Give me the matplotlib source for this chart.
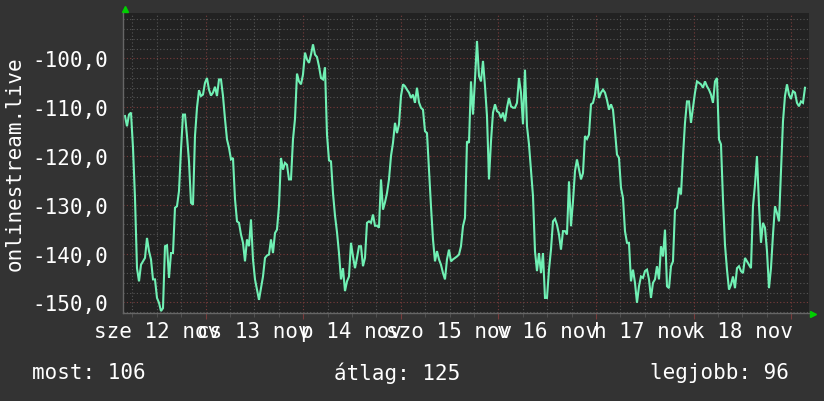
import numpy as np
import matplotlib
matplotlib.use("Agg")
import matplotlib.pyplot as plt
import matplotlib.transforms as mtransforms

# time axis: hours after 12 nov 00:00
START_HOUR = 4.2
STEP_HOUR = 0.4918
X_RANGE = (3.71, 172.4)
Y_RANGE = (-152.09, -90.57)

VALUES = [
    -111.8, -113.9, -111.5, -111.1, -118.3, -128.6, -143.0, -145.7, -142.3, -141.6,
    -140.9, -136.8, -139.5, -141.2, -145.3, -145.3, -149.1, -150.1, -151.8, -151.2,
    -138.5, -138.3, -145.0, -139.9, -139.9, -130.6, -130.3, -127.2, -118.7, -111.5,
    -111.5, -115.9, -121.1, -129.6, -130.0, -115.9, -110.1, -106.5, -107.7, -107.4,
    -105.0, -104.0, -106.4, -107.6, -107.0, -105.8, -107.7, -104.3, -104.3, -107.7,
    -112.4, -116.6, -118.3, -120.7, -120.4, -128.8, -133.4,
    -133.7, -136.1, -137.8, -141.6, -137.1, -138.5, -133.0, -141.2, -145.3, -147.4,
    -149.5, -147.1, -144.7, -140.9, -140.4, -140.2, -137.1, -139.9, -135.8, -135.1,
    -130.2, -120.4, -122.8, -121.4, -121.8, -124.8, -124.8, -116.6, -112.4, -103.1,
    -104.7, -105.3, -103.3, -98.8, -100.2, -100.9, -99.2, -97.1, -99.2, -99.7,
    -101.6, -104.0, -104.3, -101.8, -115.6, -120.9, -121.1, -127.6, -132.2, -135.6,
    -139.9, -145.3, -143.0, -147.7, -145.7, -144.7, -137.8,
    -140.6, -143.0, -140.9, -138.5, -138.5, -142.6, -140.9, -133.7, -133.4, -133.7,
    -132.0, -134.3, -134.3, -134.7, -124.8, -131.0, -129.5, -127.6, -124.8, -120.0,
    -117.3, -113.2, -115.3, -113.5, -107.7, -105.3, -105.7, -106.4, -107.0, -108.1,
    -107.4, -109.1, -106.0, -109.0, -110.1, -110.5, -114.9, -115.3, -122.8, -130.3,
    -137.1, -141.6, -139.5, -141.2, -142.3, -144.0, -145.3, -141.2, -139.2, -141.6,
    -141.2, -140.9, -140.6, -140.2, -138.5, -134.4, -132.7,
    -117.0, -117.3, -104.7, -111.5, -104.3, -96.4, -103.6, -104.7, -100.5, -105.7,
    -111.8, -124.8, -117.0, -111.1, -109.4, -110.8, -111.1, -112.2, -111.1, -112.9,
    -110.1, -108.1, -109.8, -110.1, -110.1, -109.1, -104.0, -107.0, -113.5, -102.3,
    -113.9, -117.6, -122.8, -128.2, -139.5, -143.6, -139.9, -144.0, -139.9, -149.1,
    -149.1, -143.3, -139.2, -133.4, -132.9, -134.1, -136.1, -139.2, -135.4, -135.4,
    -136.1, -125.2, -134.4, -129.3, -123.1, -120.7, -122.8,
    -124.8, -123.5, -115.9, -116.5, -115.6, -109.4, -109.1, -107.4, -104.0, -108.1,
    -107.0, -106.4, -107.0, -108.5, -110.5, -109.4, -110.5, -114.9, -119.7, -120.4,
    -126.5, -128.6, -135.4, -137.8, -137.8, -145.7, -143.3, -146.0, -150.1, -146.7,
    -144.7, -145.0, -143.6, -143.3, -145.3, -149.1, -146.0, -145.3, -142.6, -145.3,
    -138.5, -140.6, -135.1, -146.7, -147.1, -142.6, -141.6, -131.0, -130.6, -126.5,
    -127.9, -120.0, -113.2, -108.8, -108.8, -113.2, -110.1,
    -107.0, -104.7, -105.0, -105.3, -106.0, -104.7, -105.7, -106.4, -107.4, -109.1,
    -104.7, -104.0, -116.6, -117.6, -128.9, -138.2, -143.3, -147.4, -146.4, -144.7,
    -147.1, -143.0, -142.6, -143.6, -144.0, -140.9, -141.6, -142.3, -143.0, -130.3,
    -125.9, -120.0, -130.0, -137.8, -133.7, -134.7, -139.5, -147.1, -143.0, -136.1,
    -130.3, -131.7, -133.4, -123.1, -112.9, -107.7, -105.3, -107.4, -108.3, -106.7,
    -107.0, -109.1, -109.8, -108.8, -109.1, -106.0,
]

DAY_LABELS = ["sze 12 nov", "cs 13 nov", "p 14 nov", "szo 15 nov",
              "v 16 nov", "h 17 nov", "k 18 nov"]
DAY_NOON = [12, 36, 60, 84, 108, 132, 156]
MIDNIGHTS = [24, 48, 72, 96, 120, 144, 168]

YTICKS = [-150, -140, -130, -120, -110, -100]
YTICK_LABELS = ["-150,0", "-140,0", "-130,0", "-120,0", "-110,0", "-100,0"]

SERIES_NAME = "onlinestream.live"
SUMMARY = ["most: 106", "átlag: 125", "legjobb: 96"]

BG = "#333333"
PLOT_BG = "#222222"
LINE = "#70f0b4"
MINOR_GRID = "#555555"
MAJOR_GRID = "#7a3c3c"
ARROW = "#00d000"

plt.rcParams["font.family"] = "DejaVu Sans Mono"

hours = START_HOUR + STEP_HOUR * np.arange(len(VALUES))

fig = plt.figure(figsize=(8.24, 4.02), dpi=100, facecolor=BG)
ax = fig.add_axes([123 / 824, 1 - 313.5 / 402, 686 / 824, 300 / 402])
ax.set_facecolor(PLOT_BG)

ax.set_xlim(*X_RANGE)
ax.set_ylim(*Y_RANGE)

# grid
ax.set_yticks(YTICKS)
ax.set_yticklabels(YTICK_LABELS)
ax.set_yticks(np.arange(-152, -90, 2), minor=True)
ax.set_xticks(MIDNIGHTS)
ax.set_xticklabels([])
ax.set_xticks(np.arange(6, 172, 6), minor=True)

ax.grid(which="minor", color=MINOR_GRID, linestyle=(0, (1, 2)), linewidth=0.8)
ax.grid(which="major", color=MAJOR_GRID, linestyle=(0, (1, 2)), linewidth=0.8)
ax.set_axisbelow(True)

ax.tick_params(axis="y", which="both", length=0, pad=11,
               labelsize=15, labelcolor="white")
ax.tick_params(axis="x", which="major", length=4, color=MAJOR_GRID, direction="out")
ax.tick_params(axis="x", which="minor", length=3, color=MINOR_GRID, direction="out")

for side in ["top", "right"]:
    ax.spines[side].set_visible(False)
for side in ["left", "bottom"]:
    ax.spines[side].set_color("#666666")
    ax.spines[side].set_linewidth(1)

ax.plot(hours, VALUES, color=LINE, linewidth=1.5, solid_joinstyle="miter")

# day labels centred at noon
trans = mtransforms.blended_transform_factory(ax.transData, ax.transAxes)
for h, lab in zip(DAY_NOON, DAY_LABELS):
    ax.text(h, -0.061, lab, transform=trans, ha="center", va="center",
            fontsize=15, color="white", clip_on=False)

# axis arrows
ax.plot([0.003], [1.012], marker="^", markersize=4, color=ARROW,
        transform=ax.transAxes, clip_on=False)
ax.plot([1.006], [-0.005], marker=">", markersize=4, color=ARROW,
        transform=ax.transAxes, clip_on=False)

fig.text(15 / 824, 1 - 164 / 402, SERIES_NAME, rotation=90, ha="center",
         va="center", fontsize=15, color="white")

for x, txt in zip([32, 334, 650], SUMMARY):
    fig.text(x / 824, 1 - 373 / 402, txt, ha="left", va="center",
             fontsize=15, color="white")

fig.savefig("out.png", dpi=100, facecolor=BG)
